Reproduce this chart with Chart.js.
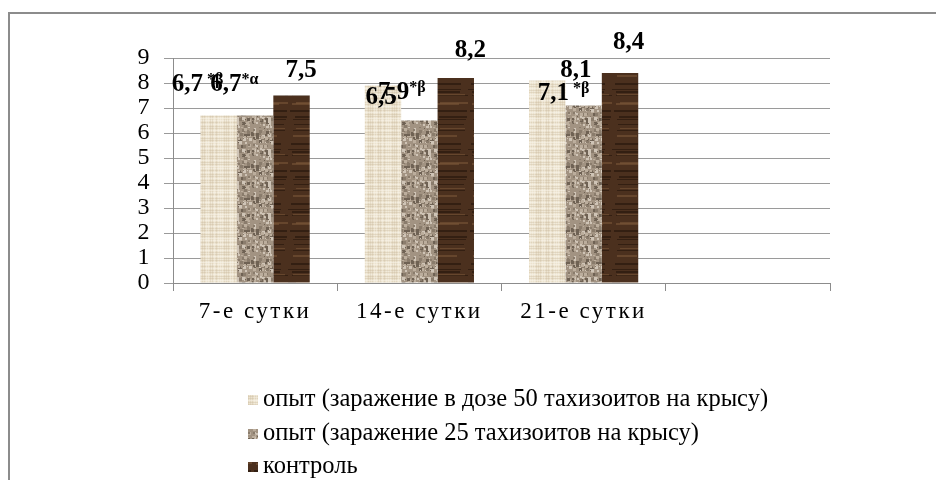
<!DOCTYPE html>
<html>
<head>
<meta charset="utf-8">
<script src="https://cdn.jsdelivr.net/npm/chart.js@4"></script>
<style>
  html, body { margin: 0; padding: 0; background: #fff; }
  #wrap { position: relative; width: 936px; height: 481px; overflow: hidden; }
  #frame { position: absolute; left: 8px; top: 12px; width: 940px; height: 466px;
           border-left: 2px solid #8c8c8c; border-top: 2px solid #8c8c8c; }
  #chart { position: absolute; left: 0; top: 0; }
</style>
</head>
<body>
<div id="wrap">
  <div id="frame"></div>
  <canvas id="chart" width="936" height="481"></canvas>
</div>
<script>
const categories = ["7-е сутки", "14-е сутки", "21-е сутки", ""];
const seriesNames = [
  "опыт (заражение в дозе 50 тахизоитов на крысу)",
  "опыт (заражение 25 тахизоитов на крысу)",
  "контроль",
];
const dose50 = [6.7, 7.9, 8.1, null];
const dose25 = [6.7, 6.5, 7.1, null];
const control = [7.5, 8.2, 8.4, null];
// significance marks written after the value labels
const marks50 = [" *β", "*β", ""];
const marks25 = ["*α", "", " *β"];
const marksControl = ["", "", ""];
const yMin = 0;
const yMax = 9;

// where Excel left the value labels: [dx from bar centre to text start, dy from bar top]
const labelOffsets = [
  [[-47, -31], [-5, 7], [13, -10]],
  [[-45, -31], [-54, -23], [-46, -12]],
  [[-6, -25], [-1, -27], [-7, -30]],
];

// cheap deterministic noise, only used for the bar textures
const noise = (i) => {
  const s = Math.sin(i * 12.9898 + 78.233) * 43758.5453;
  return s - Math.floor(s);
};

function texture(kind) {
  const c = document.createElement("canvas");
  const g = c.getContext("2d");
  if (kind === "linen") {
    c.width = 24; c.height = 24;
    g.fillStyle = "#ece3cf";
    g.fillRect(0, 0, 24, 24);
    for (let i = 0; i < 24; i += 2) {
      g.fillStyle = noise(i) > 0.5 ? "rgba(195,180,150,0.3)" : "rgba(250,246,236,0.5)";
      g.fillRect(0, i, 24, 1);
      g.fillStyle = noise(i + 50) > 0.5 ? "rgba(190,175,145,0.22)" : "rgba(250,246,236,0.4)";
      g.fillRect(i, 0, 1, 24);
    }
  } else if (kind === "granite") {
    c.width = 32; c.height = 32;
    g.fillStyle = "#a29382";
    g.fillRect(0, 0, 32, 32);
    const cols = ["#6f6254", "#cfc4b6", "#8a7c6c", "#bcae9d"];
    for (let i = 0; i < 160; i++) {
      g.fillStyle = cols[Math.floor(noise(i * 3) * 4)];
      const sz = 1 + Math.floor(noise(i * 3 + 1) * 3);
      g.fillRect(Math.floor(noise(i * 7 + 2) * 32), Math.floor(noise(i * 11 + 5) * 32), sz, sz);
    }
  } else {
    c.width = 36; c.height = 60;
    g.fillStyle = "#4b301e";
    g.fillRect(0, 0, 36, 60);
    for (let i = 0; i < 14; i++) {
      const y = Math.floor(noise(i * 5 + 9) * 60);
      g.fillStyle = noise(i * 13) > 0.5 ? "rgba(120,85,55,0.6)" : "rgba(35,20,10,0.6)";
      g.fillRect(Math.floor(noise(i + 3) * 10), y, 20 + Math.floor(noise(i + 4) * 16), 1 + Math.floor(noise(i + 6) * 2));
    }
  }
  return g.createPattern(c, "repeat");
}

const fills = [texture("linen"), texture("granite"), texture("wood")];
const marks = [marks50, marks25, marksControl];
const fmt = (v) => String(v).replace(".", ",");

const labelsPlugin = {
  id: "excelLabels",
  beforeDraw(chart) {
    chart.ctx.letterSpacing = "2.5px";
  },
  afterDatasetsDraw(chart) {
    const ctx = chart.ctx;
    ctx.save();
    ctx.letterSpacing = "0px";
    ctx.fillStyle = "#000";
    ctx.textBaseline = "middle";
    ctx.textAlign = "left";
    chart.data.datasets.forEach((ds, di) => {
      const meta = chart.getDatasetMeta(di);
      meta.data.forEach((bar, i) => {
        const v = ds.data[i];
        if (v == null) return;
        const [dx, dy] = labelOffsets[di][i];
        let x = bar.x + dx;
        const y = bar.y + dy;
        ctx.font = "bold 25px 'Liberation Serif'";
        const main = fmt(v);
        ctx.fillText(main, x, y);
        x += ctx.measureText(main).width;
        const m = marks[di][i];
        if (m) {
          ctx.font = "bold 16px 'Liberation Serif'";
          ctx.fillText(m, x, y - 5);
        }
      });
    });
    ctx.restore();
  },
  afterDraw(chart) {
    // legend, stacked list under the plot like in the Excel original
    const ctx = chart.ctx;
    ctx.save();
    ctx.letterSpacing = "0px";
    ctx.font = "24.5px 'Liberation Serif'";
    ctx.textBaseline = "middle";
    ctx.fillStyle = "#000";
    const rows = [400, 434, 467];
    chart.data.datasets.forEach((ds, di) => {
      ctx.fillStyle = fills[di];
      ctx.fillRect(248, rows[di] - 5, 10, 10);
      ctx.fillStyle = "#000";
      ctx.fillText(ds.label, 263, rows[di]);
    });
    ctx.restore();
  },
};

new Chart(document.getElementById("chart"), {
  type: "bar",
  data: {
    labels: categories,
    datasets: [
      { label: seriesNames[0], data: dose50, backgroundColor: fills[0] },
      { label: seriesNames[1], data: dose25, backgroundColor: fills[1] },
      { label: seriesNames[2], data: control, backgroundColor: fills[2] },
    ],
  },
  options: {
    responsive: false,
    animation: false,
    layout: { padding: { left: 0, right: 106, top: 58, bottom: 0 } },
    datasets: { bar: { categoryPercentage: 0.665, barPercentage: 1.0, borderWidth: 0 } },
    plugins: {
      legend: { display: false },
      tooltip: { enabled: false },
    },
    scales: {
      x: {
        afterFit: (s) => { s.height = 198; },
        grid: { drawOnChartArea: false, drawTicks: true, tickLength: 8, color: "#8c8c8c" },
        border: { color: "#8c8c8c", width: 1 },
        ticks: { color: "#000", padding: 7, font: { family: "'Liberation Serif'", size: 23 } },
      },
      y: {
        min: yMin,
        max: yMax,
        afterFit: (s) => { s.width = 173; },
        grid: { color: "#9a9a9a", tickLength: 9, lineWidth: 1 },
        border: { color: "#8c8c8c", width: 1 },
        ticks: { stepSize: 1, autoSkip: false, color: "#000", padding: 12, font: { family: "'Liberation Serif'", size: 24 } },
      },
    },
  },
  plugins: [labelsPlugin],
});
</script>
</body>
</html>
